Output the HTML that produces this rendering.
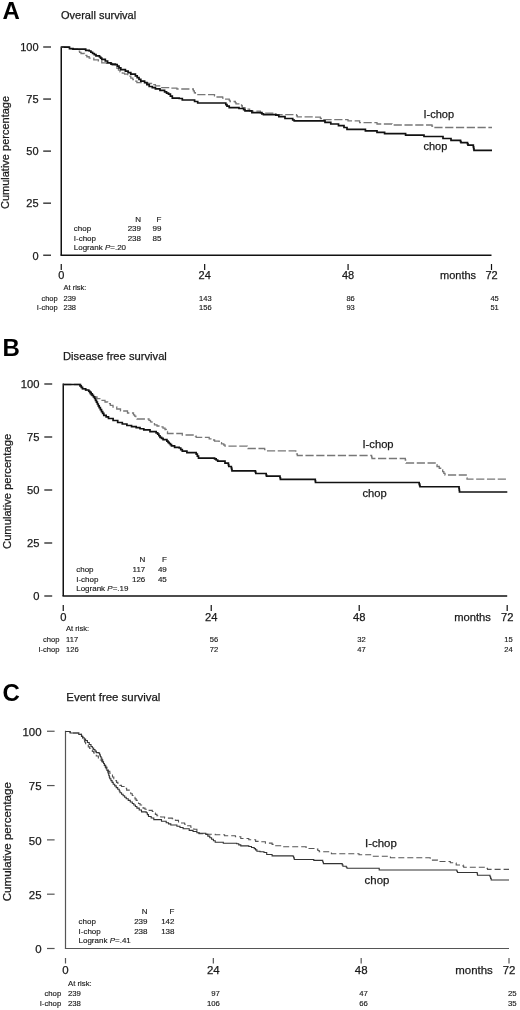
<!DOCTYPE html>
<html><head><meta charset="utf-8"><style>
html,body{margin:0;padding:0;background:#fff;}
body{width:520px;height:1010px;overflow:hidden;}
svg{display:block;font-family:"Liberation Sans", sans-serif;filter:blur(0.35px);}
</style></head><body>
<svg width="520" height="1010" viewBox="0 0 520 1010">
<rect width="520" height="1010" fill="#fff"/>
<text x="2.5" y="18.8" font-size="24" text-anchor="start" font-weight="bold" fill="#000" >A</text>
<text x="61" y="19.3" font-size="11" text-anchor="start" font-weight="normal" fill="#1a1a1a" stroke="#1a1a1a" stroke-width="0.25" >Overall survival</text>
<text x="0" y="0" font-size="11" text-anchor="middle" font-weight="normal" fill="#1a1a1a" stroke="#1a1a1a" stroke-width="0.25" transform="translate(9.2,152.5) rotate(-90)">Cumulative percentage</text>
<line x1="43.2" y1="47.0" x2="51" y2="47.0" stroke="#111" stroke-width="1.2"/>
<text x="38.6" y="51.3" font-size="11" text-anchor="end" font-weight="normal" fill="#1a1a1a" stroke="#1a1a1a" stroke-width="0.25" >100</text>
<line x1="43.2" y1="99.05" x2="51" y2="99.05" stroke="#111" stroke-width="1.2"/>
<text x="38.6" y="103.35" font-size="11" text-anchor="end" font-weight="normal" fill="#1a1a1a" stroke="#1a1a1a" stroke-width="0.25" >75</text>
<line x1="43.2" y1="151.1" x2="51" y2="151.1" stroke="#111" stroke-width="1.2"/>
<text x="38.6" y="155.4" font-size="11" text-anchor="end" font-weight="normal" fill="#1a1a1a" stroke="#1a1a1a" stroke-width="0.25" >50</text>
<line x1="43.2" y1="203.14999999999998" x2="51" y2="203.14999999999998" stroke="#111" stroke-width="1.2"/>
<text x="38.6" y="207.45" font-size="11" text-anchor="end" font-weight="normal" fill="#1a1a1a" stroke="#1a1a1a" stroke-width="0.25" >25</text>
<line x1="43.2" y1="255.2" x2="51" y2="255.2" stroke="#111" stroke-width="1.2"/>
<text x="38.6" y="259.5" font-size="11" text-anchor="end" font-weight="normal" fill="#1a1a1a" stroke="#1a1a1a" stroke-width="0.25" >0</text>
<line x1="61.25" y1="46.5" x2="61.25" y2="255.2" stroke="#111" stroke-width="1.5"/>
<line x1="60.5" y1="255.2" x2="491.5" y2="255.2" stroke="#111" stroke-width="1.5"/>
<line x1="61.25" y1="264" x2="61.25" y2="270" stroke="#111" stroke-width="1.2"/>
<text x="61.25" y="279.2" font-size="11" text-anchor="middle" font-weight="normal" fill="#1a1a1a" stroke="#1a1a1a" stroke-width="0.25" >0</text>
<line x1="204.66666666666666" y1="264" x2="204.66666666666666" y2="270" stroke="#111" stroke-width="1.2"/>
<text x="204.66666666666666" y="279.2" font-size="11" text-anchor="middle" font-weight="normal" fill="#1a1a1a" stroke="#1a1a1a" stroke-width="0.25" >24</text>
<line x1="348.0833333333333" y1="264" x2="348.0833333333333" y2="270" stroke="#111" stroke-width="1.2"/>
<text x="348.0833333333333" y="279.2" font-size="11" text-anchor="middle" font-weight="normal" fill="#1a1a1a" stroke="#1a1a1a" stroke-width="0.25" >48</text>
<line x1="491.5" y1="264" x2="491.5" y2="270" stroke="#111" stroke-width="1.2"/>
<text x="491.5" y="279.2" font-size="11" text-anchor="middle" font-weight="normal" fill="#1a1a1a" stroke="#1a1a1a" stroke-width="0.25" >72</text>
<text x="440" y="279.2" font-size="11" text-anchor="start" font-weight="normal" fill="#1a1a1a" stroke="#1a1a1a" stroke-width="0.25" >months</text>
<text x="141" y="222.3" font-size="8" text-anchor="end" font-weight="normal" fill="#1a1a1a" stroke="#1a1a1a" stroke-width="0.15" >N</text>
<text x="161.5" y="222.3" font-size="8" text-anchor="end" font-weight="normal" fill="#1a1a1a" stroke="#1a1a1a" stroke-width="0.15" >F</text>
<text x="73.75" y="231.2" font-size="8" text-anchor="start" font-weight="normal" fill="#1a1a1a" stroke="#1a1a1a" stroke-width="0.15" >chop</text>
<text x="141" y="231.2" font-size="8" text-anchor="end" font-weight="normal" fill="#1a1a1a" stroke="#1a1a1a" stroke-width="0.15" >239</text>
<text x="161.5" y="231.2" font-size="8" text-anchor="end" font-weight="normal" fill="#1a1a1a" stroke="#1a1a1a" stroke-width="0.15" >99</text>
<text x="73.75" y="240.7" font-size="8" text-anchor="start" font-weight="normal" fill="#1a1a1a" stroke="#1a1a1a" stroke-width="0.15" >I-chop</text>
<text x="141" y="240.7" font-size="8" text-anchor="end" font-weight="normal" fill="#1a1a1a" stroke="#1a1a1a" stroke-width="0.15" >238</text>
<text x="161.5" y="240.7" font-size="8" text-anchor="end" font-weight="normal" fill="#1a1a1a" stroke="#1a1a1a" stroke-width="0.15" >85</text>
<text x="73.75" y="250.2" font-size="8" text-anchor="start" font-weight="normal" fill="#1a1a1a" stroke="#1a1a1a" stroke-width="0.15" >Logrank <tspan font-style="italic">P</tspan>=.20</text>
<text x="63.5" y="290" font-size="7.5" text-anchor="start" font-weight="normal" fill="#1a1a1a" stroke="#1a1a1a" stroke-width="0.15" >At risk:</text>
<text x="57.7" y="300.5" font-size="7.5" text-anchor="end" font-weight="normal" fill="#1a1a1a" stroke="#1a1a1a" stroke-width="0.15" >chop</text>
<text x="63.5" y="300.5" font-size="7.5" text-anchor="start" font-weight="normal" fill="#1a1a1a" stroke="#1a1a1a" stroke-width="0.15" >239</text>
<text x="211.6" y="300.5" font-size="7.5" text-anchor="end" font-weight="normal" fill="#1a1a1a" stroke="#1a1a1a" stroke-width="0.15" >143</text>
<text x="354.8" y="300.5" font-size="7.5" text-anchor="end" font-weight="normal" fill="#1a1a1a" stroke="#1a1a1a" stroke-width="0.15" >86</text>
<text x="498.8" y="300.5" font-size="7.5" text-anchor="end" font-weight="normal" fill="#1a1a1a" stroke="#1a1a1a" stroke-width="0.15" >45</text>
<text x="57.7" y="310" font-size="7.5" text-anchor="end" font-weight="normal" fill="#1a1a1a" stroke="#1a1a1a" stroke-width="0.15" >I-chop</text>
<text x="63.5" y="310" font-size="7.5" text-anchor="start" font-weight="normal" fill="#1a1a1a" stroke="#1a1a1a" stroke-width="0.15" >238</text>
<text x="211.6" y="310" font-size="7.5" text-anchor="end" font-weight="normal" fill="#1a1a1a" stroke="#1a1a1a" stroke-width="0.15" >156</text>
<text x="354.8" y="310" font-size="7.5" text-anchor="end" font-weight="normal" fill="#1a1a1a" stroke="#1a1a1a" stroke-width="0.15" >93</text>
<text x="498.8" y="310" font-size="7.5" text-anchor="end" font-weight="normal" fill="#1a1a1a" stroke="#1a1a1a" stroke-width="0.15" >51</text>
<text x="423.5" y="117.7" font-size="11" text-anchor="start" font-weight="normal" fill="#1a1a1a" stroke="#1a1a1a" stroke-width="0.25" >I-chop</text>
<text x="423.5" y="150.4" font-size="11" text-anchor="start" font-weight="normal" fill="#1a1a1a" stroke="#1a1a1a" stroke-width="0.25" >chop</text>
<path d="M61.25,47 L64.9,47.0 L64.9,47.2 L69.5,47.2 L69.5,48.7 L73.0,48.7 L73.0,49.2 L76.5,49.2 L78.2,49.2 L78.2,51.2 L79.6,51.2 L79.6,52.35 L81.0,52.35 L81.0,53.5 L84.5,53.5 L84.5,55.3 L86.85,55.3 L86.85,56.75 L89.2,56.75 L89.2,58.2 L93.8,58.2 L93.8,59.9 L98.4,59.9 L98.4,61.0 L101.8,61.0 L101.8,62.8 L106.5,62.8 L106.5,63.3 L112.2,63.3 L112.2,65.1 L115.4,65.1 L115.4,66.5 L116.93,66.5 L116.93,68.3 L118.47,68.3 L118.47,70.1 L120.0,70.1 L120.0,71.9 L122.3,71.9 L122.3,73.05 L124.6,73.05 L124.6,74.2 L127.7,74.2 L127.7,76.15 L130.8,76.15 L130.8,78.1 L132.83,78.1 L132.83,79.63 L134.87,79.63 L134.87,81.17 L136.9,81.17 L136.9,82.7 L141.5,82.7 L147.7,82.7 L147.7,83.5 L151.55,83.5 L151.55,84.65 L155.4,84.65 L155.4,85.8 L161.5,85.8 L161.5,87.6 L170.8,87.6 L170.8,88.1 L176.9,88.1 L176.9,89.0 L192.3,89 L193.33,89.0 L193.33,90.87 L194.37,90.87 L194.37,92.73 L195.4,92.73 L195.4,94.6 L213,94.6 L214.5,94.6 L214.5,95.8 L216.0,95.8 L216.0,97.0 L222.3,97 L222.65,97.0 L222.65,98.1 L223.0,98.1 L223.0,99.2 L228.5,99.2 L229.25,99.2 L229.25,100.35 L230.0,100.35 L230.0,101.5 L234.6,101.5 L235.3,101.5 L235.3,102.65 L236.0,102.65 L236.0,103.8 L240.8,103.8 L241.55,103.8 L241.55,105.75 L242.3,105.75 L242.3,107.7 L245.0,107.7 L245.0,109.2 L249.6,109.2 L249.6,111.1 L260.4,111.1 L260.4,113.1 L275.8,113.1 L275.8,114.6 L295.8,114.6 L296.55,114.6 L296.55,115.75 L297.3,115.75 L297.3,116.9 L314.2,116.9 L314.2,117.2 L320.4,117.2 L320.4,118.5 L323.5,118.5 L323.5,119.6 L346,119.6 L348.0,119.6 L348.0,120.8 L357.7,120.8 L359.6,120.8 L359.6,122.7 L375,122.7 L377.0,122.7 L377.0,124.0 L390,124 L392.0,124.0 L392.0,125.0 L431.5,125 L432.0,125.0 L432.0,126.25 L432.5,126.25 L432.5,127.5 L492,127.5" fill="none" stroke="#777" stroke-width="1.3" stroke-linejoin="miter" stroke-dasharray="8.2 2.6"/>
<path d="M61.25,47 L64.9,47.0 L64.9,47.2 L69.5,47.2 L69.5,48.7 L73.0,48.7 L73.0,49.2 L81,49.2 L85.7,49.2 L85.7,50.3 L89.2,50.3 L89.2,51.0 L90.9,51.0 L90.9,52.25 L92.6,52.25 L92.6,53.5 L94.3,53.5 L94.3,54.65 L96.0,54.65 L96.0,55.8 L99.5,55.8 L99.5,57.0 L100.65,57.0 L100.65,58.15 L101.8,58.15 L101.8,59.3 L105.3,59.3 L105.3,61.0 L107.6,61.0 L107.6,62.8 L111.0,62.8 L111.0,64.2 L115.4,64.2 L115.4,64.5 L117.2,64.5 L117.2,66.2 L119.0,66.2 L119.0,67.9 L120.8,67.9 L120.8,69.6 L125.4,69.6 L125.4,71.2 L128.1,71.2 L128.1,72.7 L130.8,72.7 L130.8,74.2 L135.4,74.2 L135.4,75.8 L137.2,75.8 L137.2,77.6 L139.0,77.6 L139.0,79.4 L140.8,79.4 L140.8,81.2 L144.6,81.2 L144.6,82.7 L146.9,82.7 L146.9,84.6 L149.2,84.6 L149.2,86.5 L152.3,86.5 L152.3,87.65 L155.4,87.65 L155.4,88.8 L160.0,88.8 L160.0,90.35 L164.6,90.35 L164.6,91.9 L166.55,91.9 L166.55,93.05 L168.5,93.05 L168.5,94.2 L170.4,94.2 L170.4,96.15 L172.3,96.15 L172.3,98.1 L179.2,98.1 L179.2,98.5 L182.3,98.5 L182.3,100.0 L191.5,100 L194.6,100.0 L194.6,101.5 L197.7,101.5 L197.7,103.0 L224.6,103 L225.8,103.0 L225.8,104.6 L227.0,104.6 L227.0,106.2 L229.2,106.2 L229.2,107.7 L237.7,107.7 L239.0,107.7 L239.0,108.5 L242.3,108.5 L243.65,108.5 L243.65,109.65 L245.0,109.65 L245.0,110.8 L251.9,110.8 L251.9,112.6 L261.9,112.6 L261.9,113.8 L263.5,113.8 L263.5,114.6 L275.8,114.6 L275.8,115.1 L278.8,115.1 L278.8,116.6 L285.0,116.6 L285.0,118.5 L292.7,118.5 L292.7,120.0 L294.2,120.0 L294.2,120.8 L321.9,120.8 L325.0,120.8 L325.0,122.3 L330.8,122.3 L330.8,124.0 L338.5,124.0 L338.5,125.6 L344.0,125.6 L344.0,127.5 L347.0,127.5 L347.0,129.4 L365.4,129.4 L365.4,130.8 L375,130.8 L377.0,130.8 L377.0,132.3 L384.6,132.3 L384.6,133.7 L404.6,133.7 L405.6,133.7 L405.6,135.2 L422.9,135.2 L424.0,135.2 L424.0,136.5 L442,136.5 L443.0,136.5 L443.0,138.5 L450,138.5 L451.0,138.5 L451.0,140.4 L460,140.4 L460.5,140.4 L460.5,141.55 L461.0,141.55 L461.0,142.7 L467,142.7 L467.5,142.7 L467.5,143.95 L468.0,143.95 L468.0,145.2 L473,145.2 L473.33,145.2 L473.33,146.93 L473.67,146.93 L473.67,148.67 L474.0,148.67 L474.0,150.4 L492,150.4" fill="none" stroke="#111" stroke-width="1.7" stroke-linejoin="miter"/>
<text x="2.5" y="356.3" font-size="24" text-anchor="start" font-weight="bold" fill="#000" >B</text>
<text x="63" y="360.2" font-size="11.2" text-anchor="start" font-weight="normal" fill="#1a1a1a" stroke="#1a1a1a" stroke-width="0.25" >Disease free survival</text>
<text x="0" y="0" font-size="11.2" text-anchor="middle" font-weight="normal" fill="#1a1a1a" stroke="#1a1a1a" stroke-width="0.25" transform="translate(10.7,491.4) rotate(-90)">Cumulative percentage</text>
<line x1="44.3" y1="384.0" x2="52.2" y2="384.0" stroke="#111" stroke-width="1.2"/>
<text x="39.4" y="388.3" font-size="11.2" text-anchor="end" font-weight="normal" fill="#1a1a1a" stroke="#1a1a1a" stroke-width="0.25" >100</text>
<line x1="44.3" y1="437.0" x2="52.2" y2="437.0" stroke="#111" stroke-width="1.2"/>
<text x="39.4" y="441.3" font-size="11.2" text-anchor="end" font-weight="normal" fill="#1a1a1a" stroke="#1a1a1a" stroke-width="0.25" >75</text>
<line x1="44.3" y1="490.0" x2="52.2" y2="490.0" stroke="#111" stroke-width="1.2"/>
<text x="39.4" y="494.3" font-size="11.2" text-anchor="end" font-weight="normal" fill="#1a1a1a" stroke="#1a1a1a" stroke-width="0.25" >50</text>
<line x1="44.3" y1="543.0" x2="52.2" y2="543.0" stroke="#111" stroke-width="1.2"/>
<text x="39.4" y="547.3" font-size="11.2" text-anchor="end" font-weight="normal" fill="#1a1a1a" stroke="#1a1a1a" stroke-width="0.25" >25</text>
<line x1="44.3" y1="596.0" x2="52.2" y2="596.0" stroke="#111" stroke-width="1.2"/>
<text x="39.4" y="600.3" font-size="11.2" text-anchor="end" font-weight="normal" fill="#1a1a1a" stroke="#1a1a1a" stroke-width="0.25" >0</text>
<line x1="63.25" y1="383.5" x2="63.25" y2="596" stroke="#111" stroke-width="1.5"/>
<line x1="62.5" y1="596" x2="507.2" y2="596" stroke="#111" stroke-width="1.5"/>
<line x1="63.25" y1="605" x2="63.25" y2="611" stroke="#111" stroke-width="1.2"/>
<text x="63.25" y="620.5" font-size="11.2" text-anchor="middle" font-weight="normal" fill="#1a1a1a" stroke="#1a1a1a" stroke-width="0.25" >0</text>
<line x1="211.23333333333332" y1="605" x2="211.23333333333332" y2="611" stroke="#111" stroke-width="1.2"/>
<text x="211.23333333333332" y="620.5" font-size="11.2" text-anchor="middle" font-weight="normal" fill="#1a1a1a" stroke="#1a1a1a" stroke-width="0.25" >24</text>
<line x1="359.21666666666664" y1="605" x2="359.21666666666664" y2="611" stroke="#111" stroke-width="1.2"/>
<text x="359.21666666666664" y="620.5" font-size="11.2" text-anchor="middle" font-weight="normal" fill="#1a1a1a" stroke="#1a1a1a" stroke-width="0.25" >48</text>
<line x1="507.2" y1="605" x2="507.2" y2="611" stroke="#111" stroke-width="1.2"/>
<text x="507.2" y="620.5" font-size="11.2" text-anchor="middle" font-weight="normal" fill="#1a1a1a" stroke="#1a1a1a" stroke-width="0.25" >72</text>
<text x="454.2" y="620.5" font-size="11.2" text-anchor="start" font-weight="normal" fill="#1a1a1a" stroke="#1a1a1a" stroke-width="0.25" >months</text>
<text x="145.3" y="562" font-size="8" text-anchor="end" font-weight="normal" fill="#1a1a1a" stroke="#1a1a1a" stroke-width="0.15" >N</text>
<text x="166.8" y="562" font-size="8" text-anchor="end" font-weight="normal" fill="#1a1a1a" stroke="#1a1a1a" stroke-width="0.15" >F</text>
<text x="76.2" y="571.9" font-size="8" text-anchor="start" font-weight="normal" fill="#1a1a1a" stroke="#1a1a1a" stroke-width="0.15" >chop</text>
<text x="145.3" y="571.9" font-size="8" text-anchor="end" font-weight="normal" fill="#1a1a1a" stroke="#1a1a1a" stroke-width="0.15" >117</text>
<text x="166.8" y="571.9" font-size="8" text-anchor="end" font-weight="normal" fill="#1a1a1a" stroke="#1a1a1a" stroke-width="0.15" >49</text>
<text x="76.2" y="581.6" font-size="8" text-anchor="start" font-weight="normal" fill="#1a1a1a" stroke="#1a1a1a" stroke-width="0.15" >I-chop</text>
<text x="145.3" y="581.6" font-size="8" text-anchor="end" font-weight="normal" fill="#1a1a1a" stroke="#1a1a1a" stroke-width="0.15" >126</text>
<text x="166.8" y="581.6" font-size="8" text-anchor="end" font-weight="normal" fill="#1a1a1a" stroke="#1a1a1a" stroke-width="0.15" >45</text>
<text x="76.2" y="591" font-size="8" text-anchor="start" font-weight="normal" fill="#1a1a1a" stroke="#1a1a1a" stroke-width="0.15" >Logrank <tspan font-style="italic">P</tspan>=.19</text>
<text x="66" y="631.25" font-size="7.6" text-anchor="start" font-weight="normal" fill="#1a1a1a" stroke="#1a1a1a" stroke-width="0.15" >At risk:</text>
<text x="59.5" y="642" font-size="7.6" text-anchor="end" font-weight="normal" fill="#1a1a1a" stroke="#1a1a1a" stroke-width="0.15" >chop</text>
<text x="66" y="642" font-size="7.6" text-anchor="start" font-weight="normal" fill="#1a1a1a" stroke="#1a1a1a" stroke-width="0.15" >117</text>
<text x="218.2" y="642" font-size="7.6" text-anchor="end" font-weight="normal" fill="#1a1a1a" stroke="#1a1a1a" stroke-width="0.15" >56</text>
<text x="365.8" y="642" font-size="7.6" text-anchor="end" font-weight="normal" fill="#1a1a1a" stroke="#1a1a1a" stroke-width="0.15" >32</text>
<text x="512.7" y="642" font-size="7.6" text-anchor="end" font-weight="normal" fill="#1a1a1a" stroke="#1a1a1a" stroke-width="0.15" >15</text>
<text x="59.5" y="652" font-size="7.6" text-anchor="end" font-weight="normal" fill="#1a1a1a" stroke="#1a1a1a" stroke-width="0.15" >I-chop</text>
<text x="66" y="652" font-size="7.6" text-anchor="start" font-weight="normal" fill="#1a1a1a" stroke="#1a1a1a" stroke-width="0.15" >126</text>
<text x="218.2" y="652" font-size="7.6" text-anchor="end" font-weight="normal" fill="#1a1a1a" stroke="#1a1a1a" stroke-width="0.15" >72</text>
<text x="365.8" y="652" font-size="7.6" text-anchor="end" font-weight="normal" fill="#1a1a1a" stroke="#1a1a1a" stroke-width="0.15" >47</text>
<text x="512.7" y="652" font-size="7.6" text-anchor="end" font-weight="normal" fill="#1a1a1a" stroke="#1a1a1a" stroke-width="0.15" >24</text>
<text x="362.5" y="447.5" font-size="11.2" text-anchor="start" font-weight="normal" fill="#1a1a1a" stroke="#1a1a1a" stroke-width="0.25" >I-chop</text>
<text x="362.5" y="496.75" font-size="11.2" text-anchor="start" font-weight="normal" fill="#1a1a1a" stroke="#1a1a1a" stroke-width="0.25" >chop</text>
<path d="M63.25,384.5 L80,384.5 L80.83,384.5 L80.83,385.92 L81.67,385.92 L81.67,387.33 L82.5,387.33 L82.5,388.75 L85.62,388.75 L85.62,390.0 L88.75,390.0 L88.75,391.25 L89.38,391.25 L89.38,392.52 L90.0,392.52 L90.0,393.8 L91.25,393.8 L91.25,395.4 L92.5,395.4 L92.5,397.0 L97.0,397.0 L97.0,398.7 L101.0,398.7 L101.0,400.35 L105.0,400.35 L105.0,402.0 L107.67,402.0 L107.67,403.67 L110.33,403.67 L110.33,405.33 L113.0,405.33 L113.0,407.0 L116.75,407.0 L116.75,409.0 L120.5,409.0 L120.5,411.0 L127.5,411.0 L127.5,413.0 L133.5,413.0 L133.5,414.8 L134.67,414.8 L134.67,416.2 L135.83,416.2 L135.83,417.6 L137.0,417.6 L137.0,419.0 L149.0,419.0 L149.0,420.3 L150.5,420.3 L150.5,421.95 L152.0,421.95 L152.0,423.6 L154.5,423.6 L154.5,424.8 L157.0,424.8 L157.0,426.0 L161.0,426.0 L161.0,426.8 L163.0,426.8 L163.0,428.15 L165.0,428.15 L165.0,429.5 L166.25,429.5 L166.25,431.5 L167.5,431.5 L167.5,433.5 L180,433.5 L182.3,433.5 L182.3,435.0 L194.6,435 L195.4,435.0 L195.4,436.15 L196.2,436.15 L196.2,437.3 L207.7,437.3 L209.2,437.3 L209.2,438.8 L211.9,438.8 L211.9,440.0 L214.6,440.0 L214.6,441.2 L219.2,441.2 L219.2,442.7 L221.5,442.7 L221.5,443.85 L223.8,443.85 L223.8,445.0 L225.0,445.0 L225.0,446.1 L246.5,446.1 L247.25,446.1 L247.25,447.3 L248.0,447.3 L248.0,448.5 L263.5,448.5 L264.65,448.5 L264.65,449.65 L265.8,449.65 L265.8,450.8 L295,450.8 L295.77,450.8 L295.77,452.37 L296.53,452.37 L296.53,453.93 L297.3,453.93 L297.3,455.5 L371.25,455.5 L371.62,455.5 L371.62,457.0 L372.0,457.0 L372.0,458.5 L405,458.5 L405.33,458.5 L405.33,460.0 L405.67,460.0 L405.67,461.5 L406.0,461.5 L406.0,463.0 L435.8,463 L436.4,463.0 L436.4,464.75 L437.0,464.75 L437.0,466.5 L439.25,466.5 L439.25,468.25 L441.5,468.25 L441.5,470.0 L442.67,470.0 L442.67,471.67 L443.83,471.67 L443.83,473.33 L445.0,473.33 L445.0,475.0 L465.8,475 L466.2,475.0 L466.2,476.4 L466.6,476.4 L466.6,477.8 L467.0,477.8 L467.0,479.2 L507,479.2" fill="none" stroke="#777" stroke-width="1.3" stroke-linejoin="miter" stroke-dasharray="8.2 2.6"/>
<path d="M63.25,384.5 L78.75,384.5 L80.0,384.5 L80.0,385.92 L81.25,385.92 L81.25,387.33 L82.5,387.33 L82.5,388.75 L85.62,388.75 L85.62,390.0 L88.75,390.0 L88.75,391.25 L90.0,391.25 L90.0,392.3 L91.15,392.3 L91.15,393.85 L92.3,393.85 L92.3,395.4 L93.45,395.4 L93.45,396.95 L94.6,396.95 L94.6,398.5 L95.52,398.5 L95.52,400.34 L96.44,400.34 L96.44,402.18 L97.36,402.18 L97.36,404.02 L98.28,404.02 L98.28,405.86 L99.2,405.86 L99.2,407.7 L100.35,407.7 L100.35,409.62 L101.5,409.62 L101.5,411.55 L102.65,411.55 L102.65,413.47 L103.8,413.47 L103.8,415.4 L106.15,415.4 L106.15,416.95 L108.5,416.95 L108.5,418.5 L113.1,418.5 L113.1,420.5 L117.7,420.5 L117.7,422.5 L122.3,422.5 L122.3,424.0 L126.9,424.0 L126.9,425.5 L131.55,425.5 L131.55,426.6 L136.2,426.6 L136.2,427.7 L140.0,427.7 L140.0,428.75 L143.8,428.75 L143.8,429.8 L150.0,429.8 L150.0,431.6 L154.6,431.6 L156.15,431.6 L156.15,432.9 L157.7,432.9 L157.7,434.2 L158.85,434.2 L158.85,435.75 L160.0,435.75 L160.0,437.3 L161.55,437.3 L161.55,438.45 L163.1,438.45 L163.1,439.6 L166.9,439.6 L166.9,441.2 L168.05,441.2 L168.05,442.35 L169.2,442.35 L169.2,443.5 L170.35,443.5 L170.35,444.65 L171.5,444.65 L171.5,445.8 L174.6,445.8 L174.6,447.3 L179.2,447.3 L179.2,448.0 L180.75,448.0 L180.75,449.6 L182.3,449.6 L182.3,451.2 L186.9,451.2 L186.9,452.7 L196.2,452.7 L196.2,454.2 L197.35,454.2 L197.35,456.15 L198.5,456.15 L198.5,458.1 L214.6,458.1 L214.6,458.8 L216.15,458.8 L216.15,460.0 L217.7,460.0 L217.7,461.2 L225.0,461.2 L225.0,463.2 L228,463.2 L228.4,463.2 L228.4,464.85 L228.8,464.85 L228.8,466.5 L231,466.5 L231.33,466.5 L231.33,467.93 L231.67,467.93 L231.67,469.37 L232.0,469.37 L232.0,470.8 L255,470.8 L255.4,470.8 L255.4,472.15 L255.8,472.15 L255.8,473.5 L265.8,473.5 L266.15,473.5 L266.15,474.85 L266.5,474.85 L266.5,476.2 L279.6,476.2 L280.0,476.2 L280.0,477.75 L280.4,477.75 L280.4,479.3 L315,479.3 L315.25,479.3 L315.25,480.9 L315.5,480.9 L315.5,482.5 L418.75,482.5 L419.17,482.5 L419.17,483.92 L419.58,483.92 L419.58,485.33 L420.0,485.33 L420.0,486.75 L458.8,486.75 L459.03,486.75 L459.03,488.5 L459.27,488.5 L459.27,490.25 L459.5,490.25 L459.5,492.0 L507.3,492" fill="none" stroke="#111" stroke-width="1.7" stroke-linejoin="miter"/>
<text x="2.6" y="700.9" font-size="24" text-anchor="start" font-weight="bold" fill="#000" >C</text>
<text x="66.3" y="701" font-size="11.45" text-anchor="start" font-weight="normal" fill="#1a1a1a" stroke="#1a1a1a" stroke-width="0.25" >Event free survival</text>
<text x="0" y="0" font-size="11.6" text-anchor="middle" font-weight="normal" fill="#1a1a1a" stroke="#1a1a1a" stroke-width="0.25" transform="translate(11.4,841.7) rotate(-90)">Cumulative percentage</text>
<line x1="47" y1="731.25" x2="54.6" y2="731.25" stroke="#555" stroke-width="1.2"/>
<text x="41.6" y="736.05" font-size="11.45" text-anchor="end" font-weight="normal" fill="#1a1a1a" stroke="#1a1a1a" stroke-width="0.25" >100</text>
<line x1="47" y1="785.5625" x2="54.6" y2="785.5625" stroke="#555" stroke-width="1.2"/>
<text x="41.6" y="790.3625" font-size="11.45" text-anchor="end" font-weight="normal" fill="#1a1a1a" stroke="#1a1a1a" stroke-width="0.25" >75</text>
<line x1="47" y1="839.875" x2="54.6" y2="839.875" stroke="#555" stroke-width="1.2"/>
<text x="41.6" y="844.675" font-size="11.45" text-anchor="end" font-weight="normal" fill="#1a1a1a" stroke="#1a1a1a" stroke-width="0.25" >50</text>
<line x1="47" y1="894.1875" x2="54.6" y2="894.1875" stroke="#555" stroke-width="1.2"/>
<text x="41.6" y="898.9875" font-size="11.45" text-anchor="end" font-weight="normal" fill="#1a1a1a" stroke="#1a1a1a" stroke-width="0.25" >25</text>
<line x1="47" y1="948.5" x2="54.6" y2="948.5" stroke="#555" stroke-width="1.2"/>
<text x="41.6" y="953.3" font-size="11.45" text-anchor="end" font-weight="normal" fill="#1a1a1a" stroke="#1a1a1a" stroke-width="0.25" >0</text>
<line x1="65.5" y1="730.75" x2="65.5" y2="948.5" stroke="#555" stroke-width="1.2"/>
<line x1="64.9" y1="948.5" x2="509" y2="948.5" stroke="#555" stroke-width="1.2"/>
<line x1="65.5" y1="958" x2="65.5" y2="963.5" stroke="#555" stroke-width="1.2"/>
<text x="65.5" y="974" font-size="11.45" text-anchor="middle" font-weight="normal" fill="#1a1a1a" stroke="#1a1a1a" stroke-width="0.25" >0</text>
<line x1="213.33333333333334" y1="958" x2="213.33333333333334" y2="963.5" stroke="#555" stroke-width="1.2"/>
<text x="213.33333333333334" y="974" font-size="11.45" text-anchor="middle" font-weight="normal" fill="#1a1a1a" stroke="#1a1a1a" stroke-width="0.25" >24</text>
<line x1="361.1666666666667" y1="958" x2="361.1666666666667" y2="963.5" stroke="#555" stroke-width="1.2"/>
<text x="361.1666666666667" y="974" font-size="11.45" text-anchor="middle" font-weight="normal" fill="#1a1a1a" stroke="#1a1a1a" stroke-width="0.25" >48</text>
<line x1="509.0" y1="958" x2="509.0" y2="963.5" stroke="#555" stroke-width="1.2"/>
<text x="509.0" y="974" font-size="11.45" text-anchor="middle" font-weight="normal" fill="#1a1a1a" stroke="#1a1a1a" stroke-width="0.25" >72</text>
<text x="455.3" y="974" font-size="11.45" text-anchor="start" font-weight="normal" fill="#1a1a1a" stroke="#1a1a1a" stroke-width="0.25" >months</text>
<text x="147.5" y="914.2" font-size="8" text-anchor="end" font-weight="normal" fill="#1a1a1a" stroke="#1a1a1a" stroke-width="0.15" >N</text>
<text x="174.5" y="914.2" font-size="8" text-anchor="end" font-weight="normal" fill="#1a1a1a" stroke="#1a1a1a" stroke-width="0.15" >F</text>
<text x="78.5" y="924" font-size="8" text-anchor="start" font-weight="normal" fill="#1a1a1a" stroke="#1a1a1a" stroke-width="0.15" >chop</text>
<text x="147.5" y="924" font-size="8" text-anchor="end" font-weight="normal" fill="#1a1a1a" stroke="#1a1a1a" stroke-width="0.15" >239</text>
<text x="174.5" y="924" font-size="8" text-anchor="end" font-weight="normal" fill="#1a1a1a" stroke="#1a1a1a" stroke-width="0.15" >142</text>
<text x="78.5" y="933.8" font-size="8" text-anchor="start" font-weight="normal" fill="#1a1a1a" stroke="#1a1a1a" stroke-width="0.15" >I-chop</text>
<text x="147.5" y="933.8" font-size="8" text-anchor="end" font-weight="normal" fill="#1a1a1a" stroke="#1a1a1a" stroke-width="0.15" >238</text>
<text x="174.5" y="933.8" font-size="8" text-anchor="end" font-weight="normal" fill="#1a1a1a" stroke="#1a1a1a" stroke-width="0.15" >138</text>
<text x="78.5" y="942.6" font-size="8" text-anchor="start" font-weight="normal" fill="#1a1a1a" stroke="#1a1a1a" stroke-width="0.15" >Logrank <tspan font-style="italic">P</tspan>=.41</text>
<text x="68" y="985.5" font-size="7.75" text-anchor="start" font-weight="normal" fill="#1a1a1a" stroke="#1a1a1a" stroke-width="0.15" >At risk:</text>
<text x="61.25" y="996.25" font-size="7.75" text-anchor="end" font-weight="normal" fill="#1a1a1a" stroke="#1a1a1a" stroke-width="0.15" >chop</text>
<text x="68" y="996.25" font-size="7.75" text-anchor="start" font-weight="normal" fill="#1a1a1a" stroke="#1a1a1a" stroke-width="0.15" >239</text>
<text x="219.9" y="996.25" font-size="7.75" text-anchor="end" font-weight="normal" fill="#1a1a1a" stroke="#1a1a1a" stroke-width="0.15" >97</text>
<text x="367.9" y="996.25" font-size="7.75" text-anchor="end" font-weight="normal" fill="#1a1a1a" stroke="#1a1a1a" stroke-width="0.15" >47</text>
<text x="516.7" y="996.25" font-size="7.75" text-anchor="end" font-weight="normal" fill="#1a1a1a" stroke="#1a1a1a" stroke-width="0.15" >25</text>
<text x="61.25" y="1005.8" font-size="7.75" text-anchor="end" font-weight="normal" fill="#1a1a1a" stroke="#1a1a1a" stroke-width="0.15" >I-chop</text>
<text x="68" y="1005.8" font-size="7.75" text-anchor="start" font-weight="normal" fill="#1a1a1a" stroke="#1a1a1a" stroke-width="0.15" >238</text>
<text x="219.9" y="1005.8" font-size="7.75" text-anchor="end" font-weight="normal" fill="#1a1a1a" stroke="#1a1a1a" stroke-width="0.15" >106</text>
<text x="367.9" y="1005.8" font-size="7.75" text-anchor="end" font-weight="normal" fill="#1a1a1a" stroke="#1a1a1a" stroke-width="0.15" >66</text>
<text x="516.7" y="1005.8" font-size="7.75" text-anchor="end" font-weight="normal" fill="#1a1a1a" stroke="#1a1a1a" stroke-width="0.15" >35</text>
<text x="365" y="846.5" font-size="11.45" text-anchor="start" font-weight="normal" fill="#1a1a1a" stroke="#1a1a1a" stroke-width="0.25" >I-chop</text>
<text x="364.6" y="884" font-size="11.45" text-anchor="start" font-weight="normal" fill="#1a1a1a" stroke="#1a1a1a" stroke-width="0.25" >chop</text>
<path d="M65.5,731.5 L70.1,731.5 L70.1,733.0 L78.8,733.0 L78.8,734.4 L81.5,734.4 L81.5,736.4 L82.53,736.4 L82.53,738.25 L83.55,738.25 L83.55,740.1 L84.57,740.1 L84.57,741.95 L85.6,741.95 L85.6,743.8 L86.95,743.8 L86.95,745.32 L88.3,745.32 L88.3,746.85 L89.65,746.85 L89.65,748.38 L91.0,748.38 L91.0,749.9 L92.33,749.9 L92.33,751.42 L93.65,751.42 L93.65,752.95 L94.97,752.95 L94.97,754.48 L96.3,754.48 L96.3,756.0 L98.35,756.0 L98.35,758.0 L100.4,758.0 L100.4,760.0 L101.73,760.0 L101.73,761.8 L103.07,761.8 L103.07,763.6 L104.4,763.6 L104.4,765.4 L105.77,765.4 L105.77,767.4 L107.13,767.4 L107.13,769.4 L108.5,769.4 L108.5,771.4 L109.83,771.4 L109.83,773.25 L111.15,773.25 L111.15,775.1 L112.47,775.1 L112.47,776.95 L113.8,776.95 L113.8,778.8 L115.17,778.8 L115.17,780.6 L116.53,780.6 L116.53,782.4 L117.9,782.4 L117.9,784.2 L119.7,784.2 L119.7,785.35 L121.5,785.35 L121.5,786.5 L124.07,786.5 L124.07,788.3 L126.63,788.3 L126.63,790.1 L129.2,790.1 L129.2,791.9 L130.73,791.9 L130.73,793.7 L132.27,793.7 L132.27,795.5 L133.8,795.5 L133.8,797.3 L134.98,797.3 L134.98,798.85 L136.15,798.85 L136.15,800.4 L137.32,800.4 L137.32,801.95 L138.5,801.95 L138.5,803.5 L140.03,803.5 L140.03,805.03 L141.57,805.03 L141.57,806.57 L143.1,806.57 L143.1,808.1 L145.0,808.1 L145.0,809.25 L146.9,809.25 L146.9,810.4 L152.3,810.4 L152.3,811.5 L153.83,811.5 L153.83,812.93 L155.37,812.93 L155.37,814.37 L156.9,814.37 L156.9,815.8 L160.75,815.8 L160.75,816.95 L164.6,816.95 L164.6,818.1 L172.3,818.1 L172.3,818.8 L175.4,818.8 L175.4,820.35 L178.5,820.35 L178.5,821.9 L181.55,821.9 L181.55,823.05 L184.6,823.05 L184.6,824.2 L187.7,824.2 L187.7,825.75 L190.8,825.75 L190.8,827.3 L193.85,827.3 L193.85,829.25 L196.9,829.25 L196.9,831.2 L197.95,831.2 L197.95,832.45 L199.0,832.45 L199.0,833.7 L205.8,833.7 L205.8,834.2 L215.2,834.2 L215.2,834.7 L224.6,834.7 L224.6,835.8 L235.4,835.8 L235.4,836.8 L240.8,836.8 L240.8,838.5 L248.8,838.5 L248.8,839.8 L255.6,839.8 L255.6,841.4 L260.0,841.4 L260.0,841.7 L265.4,841.7 L265.4,843.1 L272.1,843.1 L272.1,844.4 L274.8,844.4 L274.8,845.8 L281.5,845.8 L281.5,846.8 L305.8,846.8 L305.8,847.1 L308.5,847.1 L308.5,848.5 L316.5,848.5 L316.5,849.1 L317.85,849.1 L317.85,850.45 L319.2,850.45 L319.2,851.8 L330.0,851.8 L330.0,852.1 L331.4,852.1 L331.4,853.7 L357.7,853.7 L359.0,853.7 L359.0,854.8 L369.8,854.8 L371.8,854.8 L371.8,856.2 L390,856.2 L390.4,856.2 L390.4,857.7 L429.4,857.7 L430.2,857.7 L430.2,858.9 L431.0,858.9 L431.0,860.1 L436,860.1 L437.5,860.1 L437.5,861.5 L448.3,861.5 L450.3,861.5 L450.3,862.8 L455.0,862.8 L455.0,863.1 L456.2,863.1 L456.2,865.0 L462.5,865 L463.1,865.0 L463.1,866.1 L463.7,866.1 L463.7,867.2 L486.2,867.2 L486.85,867.2 L486.85,868.3 L487.5,868.3 L487.5,869.4 L509,869.4" fill="none" stroke="#555" stroke-width="1.1" stroke-linejoin="miter" stroke-dasharray="6 3"/>
<path d="M65.5,731.5 L70.1,731.5 L70.1,733.0 L78.8,733.0 L78.8,734.4 L81.5,734.4 L81.5,736.4 L82.87,736.4 L82.87,737.77 L84.23,737.77 L84.23,739.13 L85.6,739.13 L85.6,740.5 L87.4,740.5 L87.4,742.5 L89.2,742.5 L89.2,744.5 L91.0,744.5 L91.0,746.5 L92.33,746.5 L92.33,748.02 L93.65,748.02 L93.65,749.55 L94.97,749.55 L94.97,751.08 L96.3,751.08 L96.3,752.6 L99.0,752.6 L99.0,753.3 L99.67,753.3 L99.67,754.87 L100.33,754.87 L100.33,756.43 L101.0,756.43 L101.0,758.0 L101.85,758.0 L101.85,759.85 L102.7,759.85 L102.7,761.7 L103.55,761.7 L103.55,763.55 L104.4,763.55 L104.4,765.4 L105.25,765.4 L105.25,767.08 L106.1,767.08 L106.1,768.75 L106.95,768.75 L106.95,770.42 L107.8,770.42 L107.8,772.1 L108.3,772.1 L108.3,773.77 L108.8,773.77 L108.8,775.45 L109.3,775.45 L109.3,777.12 L109.8,777.12 L109.8,778.8 L110.93,778.8 L110.93,780.6 L112.07,780.6 L112.07,782.4 L113.2,782.4 L113.2,784.2 L114.7,784.2 L114.7,785.9 L116.2,785.9 L116.2,787.6 L117.7,787.6 L117.7,789.3 L119.2,789.3 L119.2,791.0 L120.0,791.0 L120.0,792.7 L121.55,792.7 L121.55,794.23 L123.1,794.23 L123.1,795.75 L124.65,795.75 L124.65,797.27 L126.2,797.27 L126.2,798.8 L128.23,798.8 L128.23,800.37 L130.27,800.37 L130.27,801.93 L132.3,801.93 L132.3,803.5 L133.83,803.5 L133.83,805.03 L135.37,805.03 L135.37,806.57 L136.9,806.57 L136.9,808.1 L139.2,808.1 L139.2,810.0 L141.5,810.0 L141.5,811.9 L146.2,811.9 L146.2,812.7 L147.35,812.7 L147.35,814.6 L148.5,814.6 L148.5,816.5 L151.15,816.5 L151.15,818.05 L153.8,818.05 L153.8,819.6 L161.5,819.6 L161.5,821.2 L166.2,821.2 L166.2,822.7 L168.5,822.7 L168.5,823.85 L170.8,823.85 L170.8,825.0 L176.9,825.0 L176.9,826.2 L180.0,826.2 L180.0,827.5 L183.1,827.5 L183.1,828.8 L189.2,828.8 L189.2,830.4 L193.05,830.4 L193.05,831.55 L196.9,831.55 L196.9,832.7 L199.0,832.7 L199.0,833.3 L205.8,833.3 L205.8,834.4 L207.8,834.4 L207.8,836.1 L209.8,836.1 L209.8,837.8 L211.6,837.8 L211.6,839.27 L213.4,839.27 L213.4,840.73 L215.2,840.73 L215.2,842.2 L223.3,842.2 L223.3,843.2 L236.7,843.2 L236.7,843.8 L238.75,843.8 L238.75,844.85 L240.8,844.85 L240.8,845.9 L248.8,845.9 L248.8,846.5 L251.5,846.5 L251.5,847.55 L254.2,847.55 L254.2,848.6 L255.55,848.6 L255.55,849.9 L256.9,849.9 L256.9,851.2 L260.0,851.2 L260.0,851.8 L264.0,851.8 L264.0,852.5 L266.7,852.5 L266.7,854.5 L272.1,854.5 L272.1,855.9 L293.0,855.9 L293.0,856.3 L293.65,856.3 L293.65,857.9 L294.3,857.9 L294.3,859.5 L312.5,859.5 L313.8,859.5 L313.8,860.4 L322,860.4 L322.7,860.4 L322.7,862.0 L323.4,862.0 L323.4,863.6 L341.5,863.6 L342.2,863.6 L342.2,864.9 L342.9,864.9 L342.9,866.2 L345.6,866.2 L346.3,866.2 L346.3,867.25 L347.0,867.25 L347.0,868.3 L377.9,868.3 L379.2,868.3 L379.2,870.0 L456.2,870 L456.85,870.0 L456.85,871.25 L457.5,871.25 L457.5,872.5 L476.9,872.5 L477.2,872.5 L477.2,873.85 L477.5,873.85 L477.5,875.2 L489.4,875.2 L490.0,875.2 L490.0,876.8 L490.6,876.8 L490.6,878.4 L491.2,878.4 L491.2,880.0 L509,880" fill="none" stroke="#333" stroke-width="1.1" stroke-linejoin="miter"/>
</svg>
</body></html>
